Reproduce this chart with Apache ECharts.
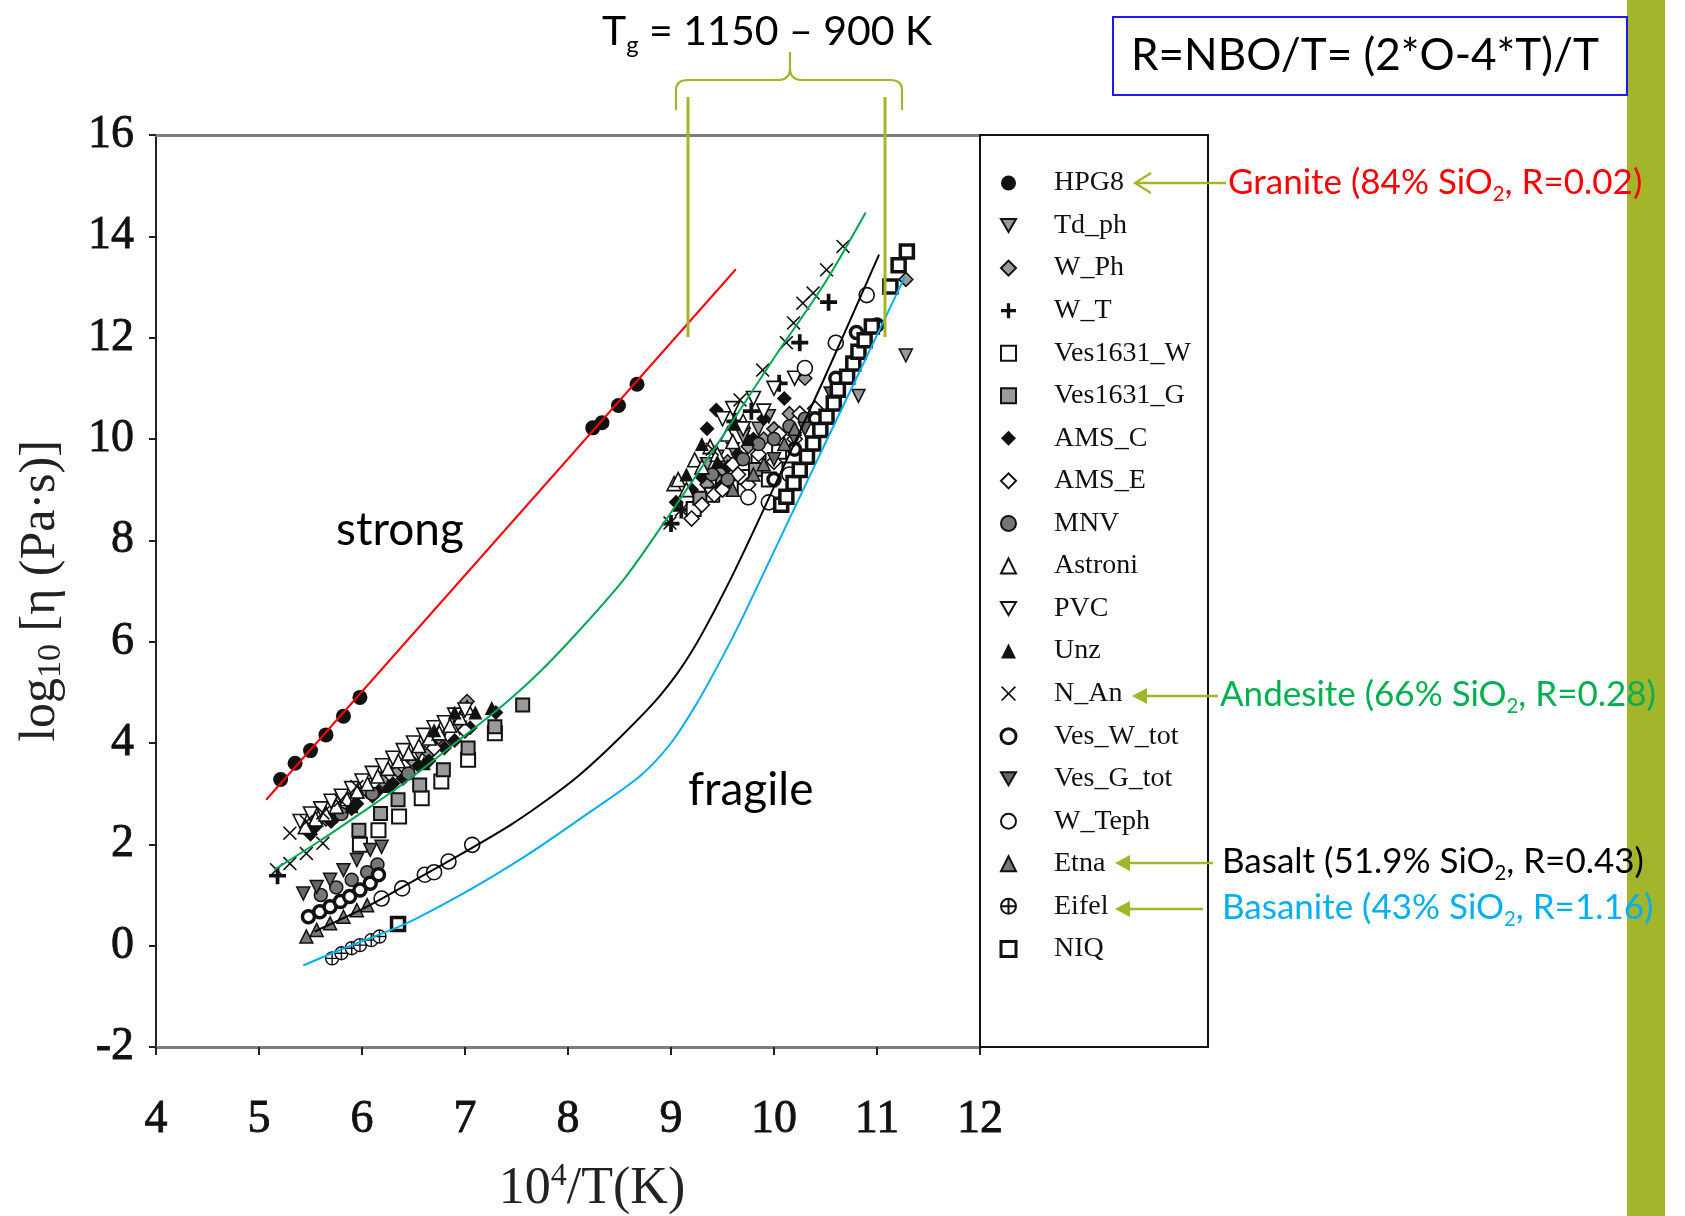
<!DOCTYPE html>
<html>
<head>
<meta charset="utf-8">
<script src="https://cdn.jsdelivr.net/npm/echarts@6/dist/echarts.min.js"></script>
<style>
  html, body { margin: 0; padding: 0; background: #fff; }
  #chart { width: 1685px; height: 1216px; }
</style>
</head>
<body>
<div id="chart"></div>
<script>
// ---- axes ----
const xTicks = [4, 5, 6, 7, 8, 9, 10, 11, 12];
const yTicks = [-2, 0, 2, 4, 6, 8, 10, 12, 14, 16];

// ---- measured viscosities: [10^4/T, log10 eta] ----
const hpg8 = [[5.21,3.28],[5.35,3.60],[5.50,3.85],[5.65,4.16],[5.82,4.53],[5.98,4.90],
  [8.24,10.22],[8.33,10.32],[8.49,10.66],[8.67,11.08]];
const tdPh = [[5.55,2.45],[5.75,2.7],[5.95,3.0],[6.15,3.3],[6.35,3.55],[6.55,3.8],[6.75,4.05],[6.95,4.3],
  [9.35,9.5],[9.45,9.65],[9.6,9.8],[9.7,10.05],[9.85,10.2],[9.95,10.45],[10.82,10.85],[11.28,11.65]];
const wPh = [[5.5,2.3],[5.65,2.5],[5.75,2.6],[5.9,2.85],[6.05,3.05],[6.2,3.25],[6.35,3.45],[6.5,3.6],[6.65,3.8],[6.8,3.95],[7.02,4.82],
  [9.35,9.1],[9.5,9.4],[9.55,9.55],[9.75,9.85],[9.9,10.0],[10.0,10.2],[10.15,10.5],[10.3,11.2],[11.28,13.15]];
const wT = [[5.18,1.38],[9.0,8.33],[9.1,8.6],[9.62,10.35],[9.78,10.55],[10.05,11.1],[10.25,11.9],[10.53,12.7]];
const ves1631W = [[5.98,1.99],[6.16,2.28],[6.36,2.55],[6.58,2.91],[6.77,3.24],[7.03,3.67],[7.29,4.19],
  [9.22,8.62],[9.4,8.9],[9.58,9.05],[9.72,9.25],[9.85,9.55],[9.95,9.2],[10.05,9.75],[10.15,9.4]];
const ves1631G = [[5.97,2.28],[6.18,2.61],[6.35,2.88],[6.56,3.17],[6.79,3.47],[7.03,3.90],[7.29,4.32],[7.56,4.75],
  [9.28,8.83],[9.5,9.15],[9.82,9.4]];
const amsC = [[5.5,2.2],[5.55,2.35],[5.7,2.45],[5.75,2.55],[5.9,2.7],[5.95,2.8],[6.1,2.95],[6.15,3.05],[6.3,3.2],
  [6.4,3.3],[6.55,3.55],[6.65,3.65],[6.8,3.9],[6.9,4.05],[7.05,4.3],[7.3,4.6],
  [9.05,8.75],[9.2,9.0],[9.3,9.25],[9.35,10.2],[9.48,9.06],[9.44,10.57],[9.55,9.45],[9.65,9.7],[9.8,10.0],[9.9,10.4],[10.1,10.8]];
const amsE = [[5.6,2.55],[5.85,2.9],[6.1,3.2],[6.4,3.55],[6.7,3.9],[7.0,4.25],
  [9.2,8.43],[9.3,8.7],[9.42,8.9],[9.5,9.0],[9.6,9.5],[9.65,9.3],[9.75,9.1],[9.85,9.7],[10.0,9.55],[10.05,10.1],
  [10.2,10.0],[10.25,10.5],[10.4,10.6]];
const mnv = [[5.6,1.0],[5.75,1.15],[5.9,1.3],[6.05,1.45],[6.15,1.6],[5.8,2.6],[6.1,3.0],[6.45,3.4],
  [9.4,9.3],[9.55,9.2],[9.7,9.6],[9.85,9.9],[10.0,10.0],[10.15,10.25],[10.3,10.4]];
const astroni = [[5.45,2.35],[5.55,2.5],[5.65,2.6],[5.75,2.75],[5.85,2.9],[5.95,3.05],[6.05,3.2],[6.15,3.35],[6.25,3.5],
  [6.35,3.65],[6.45,3.8],[6.55,3.95],[6.65,4.1],[6.75,4.2],[6.85,4.35],[6.95,4.5],[7.02,4.7],
  [9.03,9.12],[9.07,9.2],[9.15,9.0],[9.23,9.59],[9.3,9.45],[9.38,9.85],[9.45,9.7],[9.55,10.1],[9.6,9.95],[9.7,10.35]];
const pvc = [[5.4,2.45],[5.5,2.6],[5.6,2.7],[5.7,2.85],[5.8,2.95],[5.9,3.1],[6.0,3.25],[6.1,3.4],[6.2,3.55],[6.3,3.7],
  [6.4,3.85],[6.5,4.0],[6.6,4.15],[6.7,4.3],[6.8,4.4],[6.9,4.55],[7.0,4.65],
  [9.5,10.4],[9.6,10.6],[9.7,10.2],[9.8,10.8],[9.9,10.55],[10.0,11.0],[10.2,11.2]];
const unz = [[5.9,2.75],[6.25,3.15],[6.6,3.6],[6.7,4.25],[6.9,4.6],[7.1,4.6],[7.26,4.69],
  [9.15,9.3],[9.3,9.9],[9.45,9.55],[9.6,10.3],[9.75,10.0]];
const nAn = [[5.17,1.5],[5.3,1.62],[5.46,1.82],[5.62,2.02],[5.3,2.22],[5.46,2.45],[5.62,2.62],[5.79,2.87],[5.95,3.14],
  [8.99,8.34],[9.1,8.6],[9.4,9.8],[9.67,10.77],[9.89,11.36],[10.12,11.9],[10.19,12.29],[10.28,12.68],[10.38,12.88],[10.51,13.34],[10.67,13.8]];
const vesWtot = [[5.48,0.57],[5.59,0.67],[5.69,0.77],[5.79,0.87],[5.88,0.97],[5.98,1.10],[6.08,1.23],[6.16,1.40],
  [10.0,9.2],[10.2,9.8],[10.4,10.4],[10.6,11.2],[10.8,12.1],[11.0,12.25]];
const vesGtot = [[5.43,1.03],[5.56,1.16],[5.69,1.30],[5.82,1.49],[5.95,1.69],[6.08,1.89],[6.19,1.95],
  [10.0,9.6],[10.2,10.0],[10.3,10.2],[10.55,10.9]];
const wTeph = [[6.19,0.93],[6.39,1.13],[6.61,1.40],[6.70,1.45],[6.84,1.66],[7.07,1.99],
  [9.75,8.85],[9.95,8.75],[10.15,9.3],[10.3,11.4],[10.6,11.9],[10.9,12.84]];
const etna = [[5.46,0.18],[5.56,0.31],[5.69,0.44],[5.82,0.57],[5.95,0.70],[6.05,0.80],
  [9.6,9.0],[9.8,9.3],[9.9,9.5],[10.1,9.9],[10.2,10.2]];
const eifel = [[5.71,-0.25],[5.80,-0.15],[5.90,-0.05],[5.98,0.01],[6.09,0.11],[6.17,0.18]];
const niq = [[6.35,0.43],[10.07,8.70],[10.12,8.86],[10.19,9.13],[10.25,9.39],[10.32,9.65],[10.38,9.91],[10.45,10.18],
  [10.51,10.44],[10.58,10.70],[10.62,10.97],[10.71,11.23],[10.77,11.49],[10.82,11.72],[10.88,11.95],[10.95,12.22],
  [11.13,13.01],[11.21,13.43],[11.29,13.70]];

// ---- fitted viscosity curves ----
const curveGranite = [[5.07,2.88],[9.63,13.35]];
const curveAndesite = [[5.15,1.50],[5.6,2.08],[6.0,2.63],[6.43,3.24],[7.0,4.15],[7.4,4.8],[7.73,5.41],[8.1,6.2],
  [8.55,7.25],[9.0,8.55],[9.5,10.05],[10.0,11.6],[10.5,13.1],[10.89,14.47]];
const curveBasalt = [[5.54,0.28],[6.0,0.72],[6.43,1.2],[7.0,1.85],[7.44,2.38],[7.73,2.78],[8.1,3.35],[8.5,4.1],
  [8.9,4.95],[9.2,5.8],[9.57,7.2],[10.0,9.05],[10.48,11.16],[11.02,13.64]];
const curveBasanite = [[5.43,-0.39],[5.79,-0.08],[6.43,0.44],[7.0,1.05],[7.44,1.58],[7.73,1.96],[8.2,2.62],[8.7,3.35],
  [9.0,4.0],[9.25,4.78],[9.5,5.7],[9.7,6.5],[10.4,9.5],[10.8,11.2],[11.27,13.2]];

// ---- marker shapes ----
const P_PLUS = 'path://M-1.1,-5L1.1,-5L1.1,-1.1L5,-1.1L5,1.1L1.1,1.1L1.1,5L-1.1,5L-1.1,1.1L-5,1.1L-5,-1.1L-1.1,-1.1Z';
const P_CROSS = 'path://M-5,-4.2L-4.2,-5L0,-0.8L4.2,-5L5,-4.2L0.8,0L5,4.2L4.2,5L0,0.8L-4.2,5L-5,4.2L-0.8,0Z';
const P_DOWN = 'path://M-5,-4.3L5,-4.3L0,4.3Z';
const P_OPLUS = 'path://M0,-5A5,5 0 1,1 0,5A5,5 0 1,1 0,-5ZM-5,0L5,0M0,-5L0,5';

const BLACK = '#111';
const GREY = '#9a9a9a';

const markerDefs = [
  { name: 'HPG8', data: hpg8, symbol: 'circle', size: 15, color: BLACK, bw: 0 },
  { name: 'Td_ph', data: tdPh, symbol: P_DOWN, size: 13, color: GREY, bw: 1.5 },
  { name: 'W_Ph', data: wPh, symbol: 'diamond', size: 14, color: GREY, bw: 1.5 },
  { name: 'W_T', data: wT, symbol: P_PLUS, size: 17, color: BLACK, bw: 0 },
  { name: 'Ves1631_W', data: ves1631W, symbol: 'rect', size: 14, color: '#fff', bw: 2 },
  { name: 'Ves1631_G', data: ves1631G, symbol: 'rect', size: 13, color: GREY, bw: 2 },
  { name: 'AMS_C', data: amsC, symbol: 'diamond', size: 15, color: BLACK, bw: 0 },
  { name: 'AMS_E', data: amsE, symbol: 'diamond', size: 15, color: '#fff', bw: 1.6 },
  { name: 'MNV', data: mnv, symbol: 'circle', size: 13, color: '#777', bw: 1.5 },
  { name: 'Astroni', data: astroni, symbol: 'triangle', size: 14, color: '#fff', bw: 1.6 },
  { name: 'PVC', data: pvc, symbol: P_DOWN, size: 14, color: '#fff', bw: 1.6 },
  { name: 'Unz', data: unz, symbol: 'triangle', size: 14, color: BLACK, bw: 0 },
  { name: 'N_An', data: nAn, symbol: P_CROSS, size: 14, color: BLACK, bw: 0 },
  { name: 'Ves_W_tot', data: vesWtot, symbol: 'circle', size: 12, color: '#fff', bw: 3.5 },
  { name: 'Ves_G_tot', data: vesGtot, symbol: P_DOWN, size: 13, color: '#666', bw: 1.5 },
  { name: 'W_Teph', data: wTeph, symbol: 'circle', size: 15, color: '#fff', bw: 1.6 },
  { name: 'Etna', data: etna, symbol: 'triangle', size: 13, color: '#777', bw: 1.5 },
  { name: 'Eifel', data: eifel, symbol: P_OPLUS, size: 13, color: '#fff', bw: 1.4 },
  { name: 'NIQ', data: niq, symbol: 'rect', size: 13, color: '#fff', bw: 3.5 }
];

const curveDefs = [
  { data: curveGranite, color: '#ff0000', smooth: false },
  { data: curveAndesite, color: '#00a651', smooth: 0.3 },
  { data: curveBasalt, color: '#000000', smooth: 0.3 },
  { data: curveBasanite, color: '#00aeef', smooth: 0.3 }
];

const series = markerDefs.map(d => ({
  type: 'scatter',
  name: d.name,
  data: d.data,
  symbol: d.symbol,
  symbolSize: d.size,
  z: 2,
  itemStyle: { color: d.color, borderColor: BLACK, borderWidth: d.bw, opacity: 1 },
  emphasis: { disabled: true }
})).concat(curveDefs.map(c => ({
  type: 'line',
  data: c.data,
  smooth: c.smooth,
  showSymbol: false,
  z: 4,
  lineStyle: { color: c.color, width: 2 },
  emphasis: { disabled: true }
})));

// ---- page decorations ----
const OLIVE = '#a3b52b';
const serif = "'Liberation Serif', 'Times New Roman', serif";
const sans = 'Lato';

function label(x, y, text, color, size, rich) {
  return {
    type: 'text', x: x, y: y, z: 50,
    style: {
      text: text, fill: color, fontFamily: sans, fontSize: size,
      verticalAlign: 'middle', align: 'left', rich: rich || {}
    }
  };
}
function subRich(color, size) {
  return {
    s: { fontSize: size * 0.58, fill: color, fontFamily: sans, verticalAlign: 'bottom', lineHeight: size * 0.58 },
    n: { fontSize: size, fill: color, fontFamily: sans, lineHeight: size * 1.25 }
  };
}
function seg(x1, y1, x2, y2, w) {
  return { type: 'line', z: 40, shape: { x1: x1, y1: y1, x2: x2, y2: y2 }, style: { stroke: OLIVE, lineWidth: w || 2.2 } };
}
function corner(x1, y1, cx, cy, x2, y2) {
  return { type: 'bezierCurve', z: 40, shape: { x1: x1, y1: y1, cpx1: cx, cpy1: cy, x2: x2, y2: y2 },
    style: { stroke: OLIVE, lineWidth: 2.2, fill: 'none' } };
}
function arrowHeadFilled(x, y) {
  return { type: 'polygon', z: 41, shape: { points: [[x, y], [x + 15, y - 8], [x + 15, y + 8]] }, style: { fill: OLIVE } };
}

const graphics = [
  // side bar
  { type: 'rect', z: 10, shape: { x: 1627, y: 0, width: 38, height: 1216 }, style: { fill: OLIVE } },
  // legend frame
  { type: 'rect', z: 30, shape: { x: 980, y: 135, width: 228, height: 912 }, style: { fill: 'none', stroke: BLACK, lineWidth: 2 } },
  // definition box
  { type: 'rect', z: 30, shape: { x: 1113, y: 17, width: 514, height: 78 }, style: { fill: '#fff', stroke: '#1c1cf0', lineWidth: 2 } },
  label(1131, 56, 'R=NBO/T= (2*O-4*T)/T', '#000', 44),
  // glass transition range
  label(602, 32, '{n|T}{s|g}{n| = 1150 – 900 K}', '#000', 41, subRich('#000', 41)),
  seg(676, 110, 676, 90), corner(676, 90, 676, 80, 688, 80), seg(688, 80, 778, 80),
  corner(778, 80, 790, 80, 790, 68), seg(790, 68, 790, 52),
  corner(790, 68, 790, 80, 802, 80), seg(802, 80, 890, 80),
  corner(890, 80, 902, 80, 902, 90), seg(902, 90, 902, 110),
  seg(688, 97, 688, 337, 3), seg(885, 97, 885, 337, 3),
  // regime labels
  label(336, 530, 'strong', '#000', 46),
  label(688, 790, 'fragile', '#000', 46),
  // composition call-outs
  seg(1136, 183, 1226, 183, 2.5),
  { type: 'polyline', z: 41, shape: { points: [[1151, 173], [1135, 183], [1151, 193]] }, style: { fill: 'none', stroke: OLIVE, lineWidth: 2.2 } },
  label(1228, 183, '{n|Granite (84% SiO}{s|2}{n|, R=0.02)}', '#ff0000', 35, subRich('#ff0000', 35)),
  seg(1140, 696, 1218, 696, 2.5), arrowHeadFilled(1132, 696),
  label(1220, 695, '{n|Andesite (66% SiO}{s|2}{n|, R=0.28)}', '#00b050', 35, subRich('#00b050', 35)),
  seg(1124, 863, 1213, 863, 2.5), arrowHeadFilled(1115, 863),
  label(1222, 862, '{n|Basalt (51.9% SiO}{s|2}{n|, R=0.43)}', '#000', 35, subRich('#000', 35)),
  seg(1124, 909, 1203, 909, 2.5), arrowHeadFilled(1115, 909),
  label(1222, 908, '{n|Basanite (43% SiO}{s|2}{n|, R=1.16)}', '#00b0f0', 35, subRich('#00b0f0', 35))
];

const legendData = markerDefs.map(d => {
  const item = { name: d.name };
  if (d.bw > 2) item.itemStyle = { borderWidth: 3 };
  return item;
});

const chart = echarts.init(document.getElementById('chart'), null, { renderer: 'canvas' });
chart.setOption({
  animation: false,
  backgroundColor: '#fff',
  textStyle: { fontFamily: serif },
  grid: { left: 156, top: 135, width: 824, height: 912, containLabel: false, outerBoundsMode: 'none' },
  xAxis: [{
    type: 'value', min: xTicks[0], max: xTicks[xTicks.length - 1], interval: 1,
    axisLine: { onZero: false, lineStyle: { color: '#7d7d7d', width: 3 } },
    axisTick: { length: 8, lineStyle: { color: '#222', width: 2 } },
    axisLabel: { fontFamily: serif, fontSize: 46, color: '#111', margin: 50, textBorderColor: '#111', textBorderWidth: 0.8 },
    splitLine: { show: false },
    name: '10{sup|4}/T(K)', nameLocation: 'middle', nameGap: 114,
    nameTextStyle: {
      fontFamily: serif, fontSize: 52, color: '#222', lineHeight: 56, padding: [0, 0, 0, 48],
      rich: { sup: { fontFamily: serif, fontSize: 32, color: '#222', verticalAlign: 'top', lineHeight: 32 } }
    }
  }, {
    type: 'value', position: 'top', min: xTicks[0], max: xTicks[xTicks.length - 1],
    axisLine: { onZero: false, lineStyle: { color: '#7d7d7d', width: 3 } },
    axisTick: { show: false }, axisLabel: { show: false }, splitLine: { show: false }
  }],
  yAxis: [{
    type: 'value', min: yTicks[0], max: yTicks[yTicks.length - 1], interval: 2,
    axisLine: { onZero: false, lineStyle: { color: '#222', width: 2 } },
    axisTick: { length: 7, lineStyle: { color: '#222', width: 2 } },
    axisLabel: { fontFamily: serif, fontSize: 46, color: '#111', margin: 22, textBorderColor: '#111', textBorderWidth: 0.8 },
    splitLine: { show: false },
    name: 'log{sub|10} [η (Pa·s)]', nameLocation: 'middle', nameGap: 88, nameRotate: 90,
    nameTextStyle: {
      fontFamily: serif, fontSize: 50, color: '#222', lineHeight: 54,
      rich: { sub: { fontFamily: serif, fontSize: 34, color: '#222', verticalAlign: 'bottom', lineHeight: 34 } }
    }
  }],
  legend: {
    data: legendData,
    orient: 'vertical', left: 999.5, top: 168, padding: 0,
    itemWidth: 15, itemHeight: 15, itemGap: 12.55,
    selectedMode: false,
    textStyle: { fontFamily: serif, fontSize: 28, color: '#111', lineHeight: 30, padding: [0, 0, 0, 33] }
  },
  series: series,
  graphic: { elements: graphics }
});
</script>
</body>
</html>
